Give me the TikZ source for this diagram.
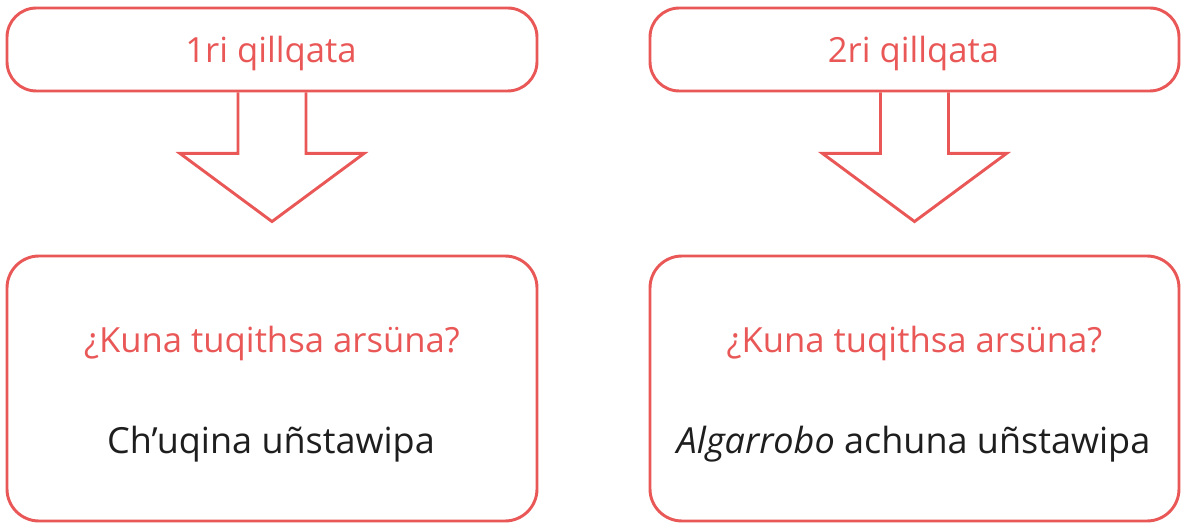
\documentclass[tikz,border=0pt]{standalone}
\usepackage{fontspec}
\setmainfont{Open Sans}
\usetikzlibrary{positioning,calc}
\definecolor{boxred}{HTML}{E95757}
\definecolor{textdark}{HTML}{1E1E1E}
\tikzset{%
    roundbox/.style={draw=boxred, line width=2.2pt, fill=white, inner sep=0pt},
    blockarrow/.style={draw=boxred, line width=2.2pt, line join=miter},
    boxtext/.style={anchor=base, font=\fontsize{26}{31}\selectfont},
    answertext/.style={anchor=base, text=textdark, font=\fontsize{27}{32}\selectfont}
}

\begin{document}
\begin{tikzpicture}[x=0.75pt,y=-0.75pt]
    \useasboundingbox (0,0) rectangle (1181,523);

    % top boxes
    \node[roundbox, rounded corners=22pt, minimum width=397.5pt, minimum height=62.25pt] (top1) at (272,49.5) {};
    \node[roundbox, rounded corners=22pt, minimum width=396.75pt, minimum height=62.25pt] (top2) at (914.5,49.5) {};
    \node[boxtext, text=boxred] (lab1) at (271,63) {1ri qillqata};
    \node[boxtext, text=boxred] (lab2) at (913.5,63) {2ri qillqata};

    % bottom boxes
    \node[roundbox, rounded corners=24pt, minimum width=397.5pt, minimum height=198.75pt] (res1) at (272,388.5) {};
    \node[roundbox, rounded corners=24pt, minimum width=396.75pt, minimum height=198.75pt] (res2) at (914.5,388.5) {};
    \node[boxtext, text=boxred] (q1) at (272,353) {¿Kuna tuqithsa arsüna?};
    \node[boxtext, text=boxred] (q2) at (914.5,353) {¿Kuna tuqithsa arsüna?};
    \node[answertext] (a1) at (271,454) {Ch’uqina uñstawipa};
    \node[answertext] (a2) at (913.5,454) {\textit{Algarrobo} achuna uñstawipa};

    % block arrows
    \foreach \n in {1,2} {
        \draw[blockarrow] ($(top\n.south)+(-34,0)$) -- ++(0,61) -- ++(-58,0)
            -- ($(res\n.north)+(0,-33)$)
            -- ($(top\n.south)+(92,61)$) -- ++(-58,0) -- ($(top\n.south)+(34,0)$);
    }
\end{tikzpicture}
\end{document}
